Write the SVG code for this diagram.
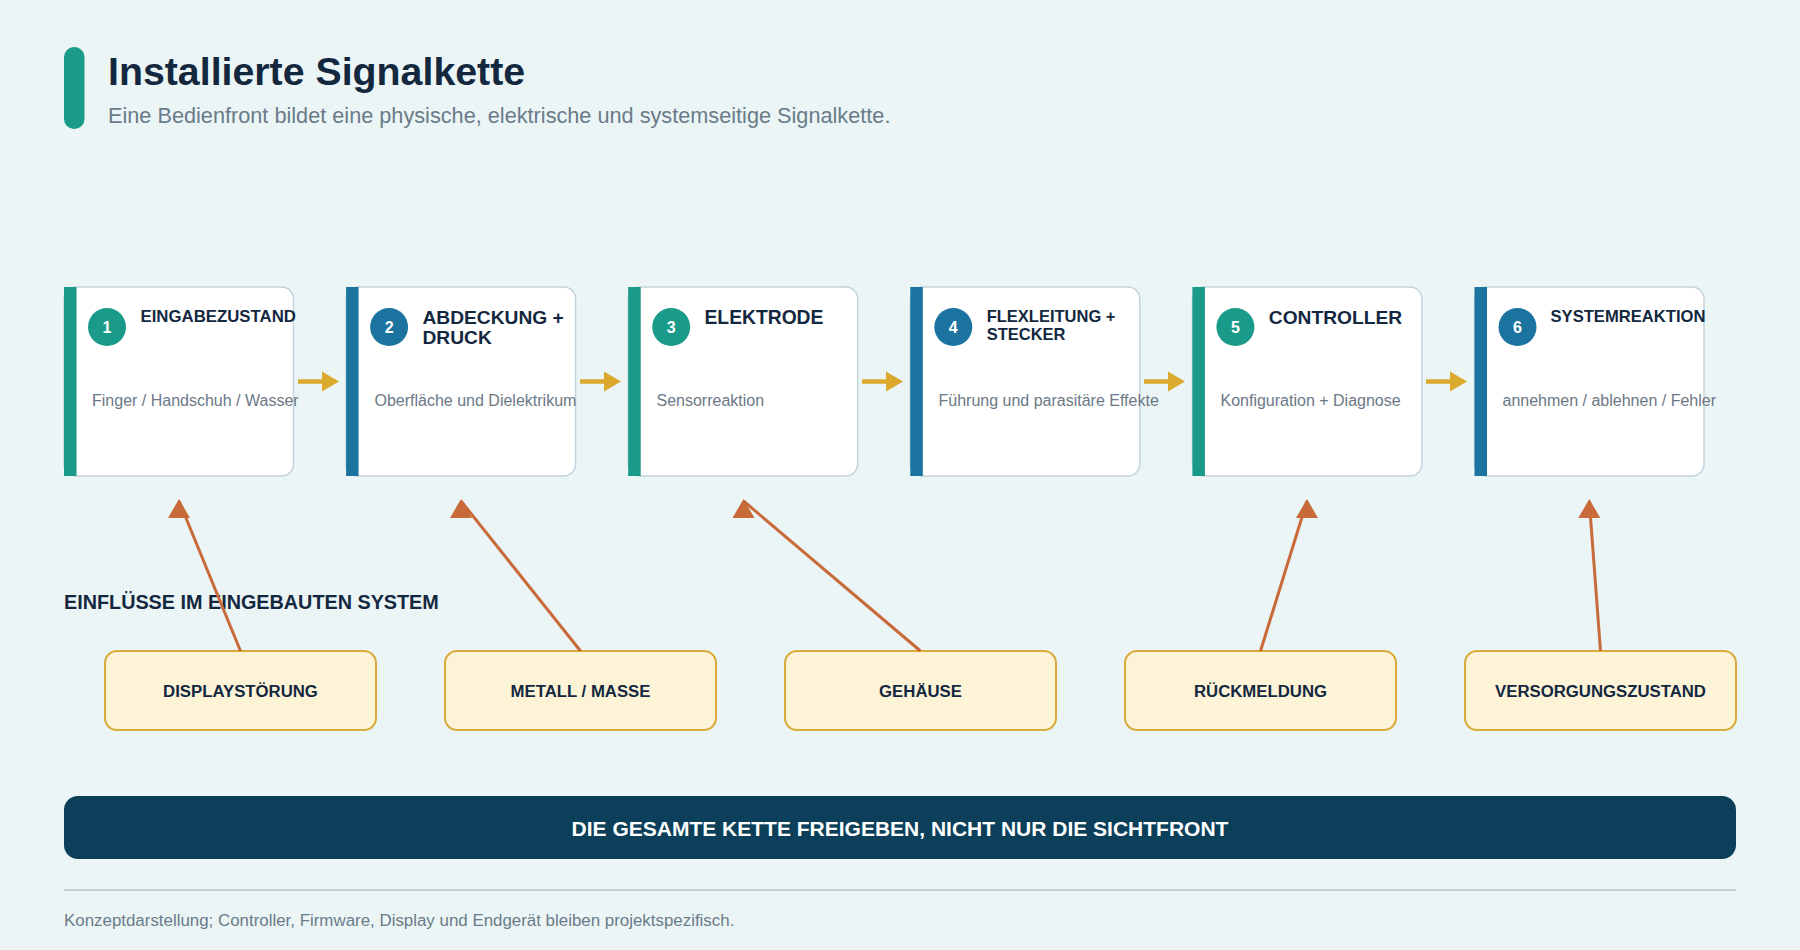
<svg xmlns="http://www.w3.org/2000/svg" width="1800" height="950" viewBox="0 0 1800 950">
<defs>
<style>
text{font-family:"Liberation Sans",Arial,sans-serif}
.title{font-size:39.3px;font-weight:700;fill:#13283f}
.sub{font-size:21.7px;fill:#6a7b89}
.card{fill:#fff;stroke:#c3d3dc;stroke-width:1.5}
.teal{fill:#1a9a88}
.blue{fill:#1b74a0}
.num{font-size:16px;font-weight:700;fill:#fff;text-anchor:middle}
.ct{font-weight:700;fill:#13283f}
.desc{font-size:16px;fill:#6b7886}
.flow{stroke:#dba92e;stroke-width:4.5;fill:none}
.flowhead{fill:#dba92e}
.inf{stroke:#c96a3a;stroke-width:3;fill:none}
.infhead{fill:#c96a3a}
.box{fill:#fdf4d8;stroke:#d9a93a;stroke-width:2}
.boxt{font-size:16.75px;font-weight:700;fill:#13283f;text-anchor:middle}
.sec{font-size:19.8px;font-weight:700;fill:#13283f}
.foot{font-size:16.9px;fill:#6a7b89}
</style>
</defs>
<rect width="1800" height="950" fill="#ebf5f6"/>

<g id="header">
<rect x="64" y="47" width="20.5" height="82" rx="10" class="teal"/>
<text x="108" y="85" class="title">Installierte Signalkette</text>
<text x="108" y="123" class="sub">Eine Bedienfront bildet eine physische, elektrische und systemseitige Signalkette.</text>
</g>

<g id="card1">
<rect x="64" y="287" width="229.5" height="189" rx="12" class="card"/>
<rect x="64" y="287" width="12.5" height="189" class="teal"/>
<circle cx="107" cy="327" r="19" class="teal"/>
<text x="107" y="333" class="num">1</text>
<text x="140.5" y="322.3" class="ct" style="font-size:16.8px">EINGABEZUSTAND</text>
<text x="92" y="406" class="desc">Finger / Handschuh / Wasser</text>
</g>

<g id="card2">
<rect x="346.1" y="287" width="229.5" height="189" rx="12" class="card"/>
<rect x="346.1" y="287" width="12.5" height="189" class="blue"/>
<circle cx="389.1" cy="327" r="19" class="blue"/>
<text x="389.1" y="333" class="num">2</text>
<text x="422.5" y="324" class="ct" style="font-size:19.2px">ABDECKUNG +</text>
<text x="422.5" y="344" class="ct" style="font-size:19.2px">DRUCK</text>
<text x="374.5" y="406" class="desc">Oberfläche und Dielektrikum</text>
</g>

<g id="card3">
<rect x="628.2" y="287" width="229.5" height="189" rx="12" class="card"/>
<rect x="628.2" y="287" width="12.5" height="189" class="teal"/>
<circle cx="671.2" cy="327" r="19" class="teal"/>
<text x="671.2" y="333" class="num">3</text>
<text x="704.5" y="323.5" class="ct" style="font-size:19.3px">ELEKTRODE</text>
<text x="656.5" y="406" class="desc">Sensorreaktion</text>
</g>

<g id="card4">
<rect x="910.3" y="287" width="229.5" height="189" rx="12" class="card"/>
<rect x="910.3" y="287" width="12.5" height="189" class="blue"/>
<circle cx="953.3" cy="327" r="19" class="blue"/>
<text x="953.3" y="333" class="num">4</text>
<text x="986.7" y="322.3" class="ct" style="font-size:16.5px">FLEXLEITUNG +</text>
<text x="986.7" y="340" class="ct" style="font-size:16.5px">STECKER</text>
<text x="938.5" y="406" class="desc">Führung und parasitäre Effekte</text>
</g>

<g id="card5">
<rect x="1192.4" y="287" width="229.5" height="189" rx="12" class="card"/>
<rect x="1192.4" y="287" width="12.5" height="189" class="teal"/>
<circle cx="1235.4" cy="327" r="19" class="teal"/>
<text x="1235.4" y="333" class="num">5</text>
<text x="1268.8" y="323.5" class="ct" style="font-size:19.2px">CONTROLLER</text>
<text x="1220.5" y="406" class="desc">Konfiguration + Diagnose</text>
</g>

<g id="card6">
<rect x="1474.5" y="287" width="229.5" height="189" rx="12" class="card"/>
<rect x="1474.5" y="287" width="12.5" height="189" class="blue"/>
<circle cx="1517.5" cy="327" r="19" class="blue"/>
<text x="1517.5" y="333" class="num">6</text>
<text x="1550.5" y="322.3" class="ct" style="font-size:16.6px">SYSTEMREAKTION</text>
<text x="1502.5" y="406" class="desc">annehmen / ablehnen / Fehler</text>
</g>

<g id="section-label">
<text x="64" y="609" class="sec">EINFLÜSSE IM EINGEBAUTEN SYSTEM</text>
</g>

<g id="influence1">
<rect x="105" y="651" width="271" height="79" rx="12" class="box"/>
<text x="240.5" y="697" class="boxt">DISPLAYSTÖRUNG</text>
</g>
<g id="influence2">
<rect x="445" y="651" width="271" height="79" rx="12" class="box"/>
<text x="580.5" y="697" class="boxt">METALL / MASSE</text>
</g>
<g id="influence3">
<rect x="785" y="651" width="271" height="79" rx="12" class="box"/>
<text x="920.5" y="697" class="boxt">GEHÄUSE</text>
</g>
<g id="influence4">
<rect x="1125" y="651" width="271" height="79" rx="12" class="box"/>
<text x="1260.5" y="697" class="boxt">RÜCKMELDUNG</text>
</g>
<g id="influence5">
<rect x="1465" y="651" width="271" height="79" rx="12" class="box"/>
<text x="1600.5" y="697" class="boxt">VERSORGUNGSZUSTAND</text>
</g>

<g id="connectors">
<line x1="298" y1="381.5" x2="324" y2="381.5" class="flow"/>
<polygon points="339,381.5 322,371.5 322,391.5" class="flowhead"/>
<line x1="580" y1="381.5" x2="606" y2="381.5" class="flow"/>
<polygon points="621,381.5 604,371.5 604,391.5" class="flowhead"/>
<line x1="862" y1="381.5" x2="888" y2="381.5" class="flow"/>
<polygon points="903,381.5 886,371.5 886,391.5" class="flowhead"/>
<line x1="1144" y1="381.5" x2="1170" y2="381.5" class="flow"/>
<polygon points="1185,381.5 1168,371.5 1168,391.5" class="flowhead"/>
<line x1="1426" y1="381.5" x2="1452" y2="381.5" class="flow"/>
<polygon points="1467,381.5 1450,371.5 1450,391.5" class="flowhead"/>

<line x1="240.5" y1="651" x2="179" y2="501" class="inf"/>
<polygon points="179,499 190,518 168,518" class="infhead"/>
<line x1="580.5" y1="651" x2="461" y2="501" class="inf"/>
<polygon points="461,499 472,518 450,518" class="infhead"/>
<line x1="920.5" y1="651" x2="743.5" y2="501" class="inf"/>
<polygon points="743.5,499 754.5,518 732.5,518" class="infhead"/>
<line x1="1260.5" y1="651" x2="1307" y2="501" class="inf"/>
<polygon points="1307,499 1318,518 1296,518" class="infhead"/>
<line x1="1600.5" y1="651" x2="1589.3" y2="501" class="inf"/>
<polygon points="1589.3,499 1600.3,518 1578.3,518" class="infhead"/>
</g>

<g id="banner">
<rect x="64" y="796" width="1672" height="63" rx="14" fill="#0b3f5a"/>
<text x="900" y="836" text-anchor="middle" style="font-size:21px;font-weight:700;fill:#ffffff">DIE GESAMTE KETTE FREIGEBEN, NICHT NUR DIE SICHTFRONT</text>
</g>

<g id="footer">
<line x1="64" y1="890" x2="1736" y2="890" stroke="#c0d1d8" stroke-width="2"/>
<text x="64" y="926" class="foot">Konzeptdarstellung; Controller, Firmware, Display und Endgerät bleiben projektspezifisch.</text>
</g>
</svg>
